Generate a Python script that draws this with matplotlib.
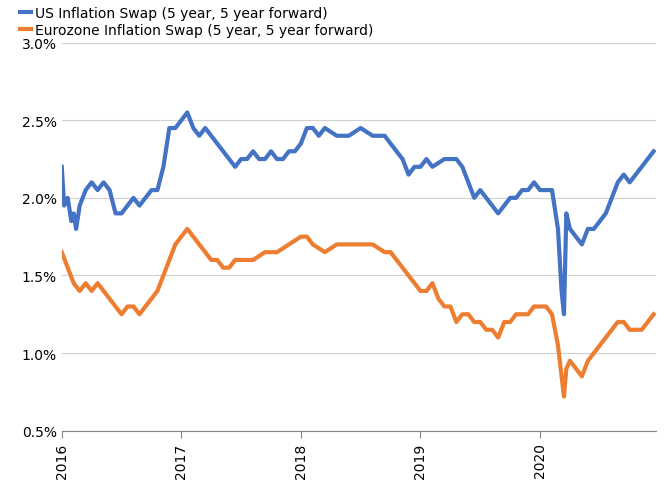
import matplotlib
matplotlib.use('Agg')
import matplotlib.pyplot as plt
from matplotlib.ticker import FuncFormatter

# decimal year, value (%)
us_t = [2016.0,2016.02,2016.05,2016.08,2016.1,2016.12,2016.15,2016.2,2016.25,2016.3,2016.35,2016.4,2016.45,2016.5,
        2016.55,2016.6,2016.65,2016.7,2016.75,2016.8,2016.85,2016.88,2016.9,2016.95,2017.0,2017.05,2017.1,2017.15,
        2017.2,2017.25,2017.3,2017.35,2017.4,2017.45,2017.5,2017.55,2017.6,2017.65,2017.7,2017.75,2017.8,2017.85,
        2017.9,2017.95,2018.0,2018.05,2018.1,2018.15,2018.2,2018.3,2018.4,2018.5,2018.6,2018.7,2018.75,2018.8,
        2018.85,2018.9,2018.95,2019.0,2019.05,2019.1,2019.2,2019.3,2019.35,2019.4,2019.45,2019.5,2019.55,2019.6,
        2019.65,2019.7,2019.75,2019.8,2019.85,2019.9,2019.95,2020.0,2020.05,2020.1,2020.15,2020.18,2020.2,2020.22,
        2020.25,2020.3,2020.35,2020.4,2020.45,2020.5,2020.55,2020.6,2020.65,2020.7,2020.75,2020.8,2020.85,2020.9,2020.95]
us_v = [2.2,1.95,2.0,1.85,1.9,1.8,1.95,2.05,2.1,2.05,2.1,2.05,1.9,1.9,
        1.95,2.0,1.95,2.0,2.05,2.05,2.2,2.35,2.45,2.45,2.5,2.55,2.45,2.4,
        2.45,2.4,2.35,2.3,2.25,2.2,2.25,2.25,2.3,2.25,2.25,2.3,2.25,2.25,
        2.3,2.3,2.35,2.45,2.45,2.4,2.45,2.4,2.4,2.45,2.4,2.4,2.35,2.3,
        2.25,2.15,2.2,2.2,2.25,2.2,2.25,2.25,2.2,2.1,2.0,2.05,2.0,1.95,
        1.9,1.95,2.0,2.0,2.05,2.05,2.1,2.05,2.05,2.05,1.8,1.4,1.25,1.9,
        1.8,1.75,1.7,1.8,1.8,1.85,1.9,2.0,2.1,2.15,2.1,2.15,2.2,2.25,2.3]

ez_t = [2016.0,2016.05,2016.1,2016.15,2016.2,2016.25,2016.3,2016.35,2016.4,2016.45,2016.5,2016.55,2016.6,2016.65,
        2016.7,2016.75,2016.8,2016.85,2016.9,2016.95,2017.0,2017.05,2017.1,2017.15,2017.2,2017.25,2017.3,2017.35,
        2017.4,2017.45,2017.5,2017.6,2017.7,2017.8,2017.9,2018.0,2018.05,2018.1,2018.2,2018.3,2018.4,2018.5,
        2018.6,2018.7,2018.75,2018.8,2018.85,2018.9,2018.95,2019.0,2019.05,2019.1,2019.15,2019.2,2019.25,2019.3,
        2019.35,2019.4,2019.45,2019.5,2019.55,2019.6,2019.65,2019.7,2019.75,2019.8,2019.85,2019.9,2019.95,2020.0,
        2020.05,2020.1,2020.15,2020.18,2020.2,2020.22,2020.25,2020.3,2020.35,2020.4,2020.45,2020.5,2020.55,2020.6,
        2020.65,2020.7,2020.75,2020.8,2020.85,2020.9,2020.95]
ez_v = [1.65,1.55,1.45,1.4,1.45,1.4,1.45,1.4,1.35,1.3,1.25,1.3,1.3,1.25,
        1.3,1.35,1.4,1.5,1.6,1.7,1.75,1.8,1.75,1.7,1.65,1.6,1.6,1.55,
        1.55,1.6,1.6,1.6,1.65,1.65,1.7,1.75,1.75,1.7,1.65,1.7,1.7,1.7,
        1.7,1.65,1.65,1.6,1.55,1.5,1.45,1.4,1.4,1.45,1.35,1.3,1.3,1.2,
        1.25,1.25,1.2,1.2,1.15,1.15,1.1,1.2,1.2,1.25,1.25,1.25,1.3,1.3,
        1.3,1.25,1.05,0.85,0.72,0.9,0.95,0.9,0.85,0.95,1.0,1.05,1.1,1.15,
        1.2,1.2,1.15,1.15,1.15,1.2,1.25]

years = [2016, 2017, 2018, 2019, 2020]

fig = plt.figure(figsize=(6.64, 4.85), dpi=100)
ax = fig.add_axes([0.093, 0.11, 0.895, 0.80])
ax.plot(us_t, us_v, color='#4472C4', lw=3, label='US Inflation Swap (5 year, 5 year forward)')
ax.plot(ez_t, ez_v, color='#ED7D31', lw=3, label='Eurozone Inflation Swap (5 year, 5 year forward)')

ax.set_ylim(0.5, 3.0)
ax.set_yticks([0.5, 1.0, 1.5, 2.0, 2.5, 3.0])
ax.yaxis.set_major_formatter(FuncFormatter(lambda v, p: '%.1f%%' % v))
ax.set_xlim(2016, 2020.97)
ax.set_xticks(years)
ax.set_xticklabels([str(y) for y in years], rotation=90)
ax.grid(axis='y', color='#d0d0d0', lw=0.8)
for s in ['top', 'right', 'left']:
    ax.spines[s].set_visible(False)
ax.spines['bottom'].set_color('#888888')
ax.tick_params(axis='y', length=0, labelsize=10)
ax.tick_params(axis='x', length=5, color='#888888', labelsize=10)
ax.legend(loc='lower left', bbox_to_anchor=(-0.08, 1.0), frameon=False, fontsize=10,
          handlelength=0.8, handletextpad=0.3, labelspacing=0.2, borderaxespad=0)

plt.savefig('out.png')
